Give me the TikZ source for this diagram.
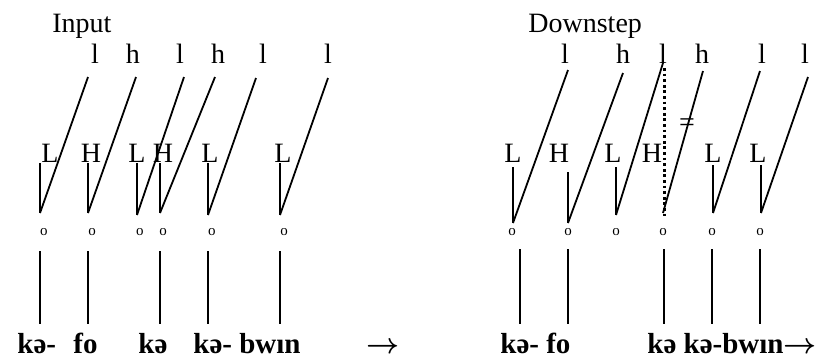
\documentclass[tikz,border=0pt]{standalone}
\usepackage{fontspec}
\setmainfont{Liberation Serif}
\usepackage{tikz}
\usetikzlibrary{positioning}

\begin{document}
\begin{tikzpicture}[
    x=0.5pt,
    y=-0.5pt,
%
    heading/.style={
        anchor=base west,
        inner sep=0pt,
        font=\fontsize{14}{16}\selectfont
    },
%
    tone/.style={
        anchor=base,
        inner sep=0pt,
        font=\fontsize{14}{16}\selectfont
    },
%
    mora/.style={
        anchor=base,
        inner sep=0pt,
        font=\fontsize{7.5}{9}\selectfont
    },
%
    word/.style={
        anchor=base west,
        inner sep=0pt,
        font=\fontsize{14.5}{16}\selectfont\bfseries\boldmath
    },
%
    assoc/.style={
        line width=0.9pt
    },
%
    delink/.style={
        line width=1.5pt,
        dash pattern=on 1.4pt off 1.4pt
    }
]
\useasboundingbox (0,0) rectangle (816,361);
%
% Input
%
\node[heading] (input) at (52,32) {Input};
%
\node[tone] (il1) at (95,63) {l};
\node[tone] (ih2) at (133,63) {h};
\node[tone] (il3) at (180,63) {l};
\node[tone] (ih4) at (218,63) {h};
\node[tone] (il5) at (263,63) {l};
\node[tone] (il6) at (328,63) {l};
%
\node[tone] (iL1) at (50,162) {L};
\node[tone] (iH2) at (91,162) {H};
\node[tone] (iL3) at (137,162) {L};
\node[tone] (iH4) at (163,162) {H};
\node[tone] (iL5) at (210,162) {L};
\node[tone] (iL6) at (283,162) {L};
%
\foreach \n/\x in {1/44,2/92,3/140,4/163,5/212,6/284}
    \node[mora] (io\n) at (\x,235) {o};
%
% lines from the register tones down to the moras
\foreach \n/\xt/\yt/\xb/\yb in {
    1/88/77/40/213,
    2/136/77/88/213,
    3/184/77/137/215,
    4/215/77/160/213,
    5/256/78/208/215,
    6/328/78/280/215}
{
    \coordinate (ist\n) at (\xt,\yt);
    \coordinate (isb\n) at (\xb,\yb);
    \draw[assoc] (ist\n) -- (isb\n);
}
%
\foreach \n/\x/\yb in {1/40/213,2/88/213,3/137/215,4/160/213,5/208/215,6/280/215}
{
    \coordinate (ivt\n) at (\x,163);
    \coordinate (ivb\n) at (\x,\yb);
    \draw[assoc] (ivt\n) -- (ivb\n);
}
%
\foreach \n/\x in {1/40,2/88,4/160,5/208,6/280}
{
    \coordinate (iwt\n) at (\x,251);
    \coordinate (iwb\n) at (\x,324);
    \draw[assoc] (iwt\n) -- (iwb\n);
}
%
\node[word] (ika) at (17,353) {kə-};
\node[word] (ifo) at (73,353) {fo};
\node[word] (ikb) at (138,353) {kə};
\node[word] (ibwin) at (193,353) {kə- bwın};
\node[word] (iarr) at (366,353) {$\rightarrow$};
%
% Downstep
%
\node[heading] (down) at (528,32) {Downstep};
%
\node[tone] (dl1) at (565,63) {l};
\node[tone] (dh2) at (623,63) {h};
\node[tone] (dl3) at (663,63) {l};
\node[tone] (dh4) at (702,63) {h};
\node[tone] (dl5) at (762,63) {l};
\node[tone] (dl6) at (805,63) {l};
%
\node[tone] (dL1) at (513,162) {L};
\node[tone] (dH2) at (559,162) {H};
\node[tone] (dL3) at (613,162) {L};
\node[tone] (dH4) at (652,162) {H};
\node[tone] (dL5) at (713,162) {L};
\node[tone] (dL6) at (758,162) {L};
%
\node[tone] (neq) at (687,131) {=};
%
\foreach \n/\x in {1/512,2/568,3/616,4/663,5/712,6/760}
    \node[mora] (do\n) at (\x,235) {o};
%
\foreach \n/\xt/\yt/\xb/\yb in {
    1/568/70/513/223,
    2/623/73/568/223,
    3/663/63/616/215,
    4/703/71/663/213,
    5/760/71/713/213,
    6/808/77/761/213}
{
    \coordinate (dst\n) at (\xt,\yt);
    \coordinate (dsb\n) at (\xb,\yb);
    \draw[assoc] (dst\n) -- (dsb\n);
}
%
\foreach \n/\x/\yt/\yb in {
    1/513/167/223,
    2/568/172/223,
    3/616/167/215,
    5/713/165/213,
    6/761/165/213}
{
    \coordinate (dvt\n) at (\x,\yt);
    \coordinate (dvb\n) at (\x,\yb);
    \draw[assoc] (dvt\n) -- (dvb\n);
}
%
% the delinked low tone
\coordinate (dlt) at (664,68);
\coordinate (dlb) at (664,218);
\draw[delink] (dlt) -- (dlb);
%
\foreach \n/\x in {1/520,2/568,4/664,5/712,6/760}
{
    \coordinate (dwt\n) at (\x,249);
    \coordinate (dwb\n) at (\x,324);
    \draw[assoc] (dwt\n) -- (dwb\n);
}
%
\node[word] (dkafo) at (500,353) {kə- fo};
\node[word] (dbwin) at (647,353) {kə kə-bwın$\rightarrow$};
%
\end{tikzpicture}
\end{document}
